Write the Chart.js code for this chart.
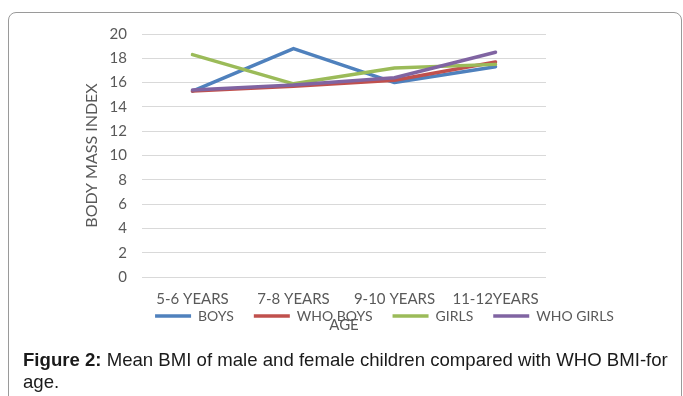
<!DOCTYPE html>
<html>
<head>
<meta charset="utf-8">
<script src="https://cdn.jsdelivr.net/npm/chart.js@4.4.1/dist/chart.umd.min.js"></script>
<style>
  html, body { margin: 0; padding: 0; background: #fff; }
  body { width: 683px; height: 396px; position: relative; overflow: hidden; }
  #frame { position: absolute; left: 8px; top: 12px; width: 674px; height: 420px;
           border: 1px solid #9a9a9a; border-radius: 8px; box-sizing: border-box; }
  #wrap { position: absolute; left: 0; top: 0; width: 683px; height: 381px; }
  #caption { position: absolute; left: 23px; top: 349px; width: 655px;
             font-family: "Liberation Sans", Arial, sans-serif; font-size: 18.6px;
             line-height: 22px; color: #1a1a1a; }
  #caption b { font-weight: bold; }
</style>
</head>
<body>
<div id="frame"></div>
<div id="wrap"><canvas id="c" width="683" height="381"></canvas></div>
<div id="caption"><b>Figure 2:</b> Mean BMI of male and female children compared with WHO BMI-for age.</div>
<script>
const categories = ["5-6 YEARS", "7-8 YEARS", "9-10 YEARS", "11-12YEARS"];
const boys      = [15.3, 18.8, 16.0, 17.3];
const whoBoys   = [15.3, 15.7, 16.2, 17.7];
const girls     = [18.3, 15.9, 17.2, 17.5];
const whoGirls  = [15.4, 15.8, 16.4, 18.5];
const seriesNames = ["BOYS", "WHO BOYS", "GIRLS", "WHO GIRLS"];
const yTicks = [0, 2, 4, 6, 8, 10, 12, 14, 16, 18, 20];

const colors = ["#4F81BD", "#C0504D", "#9BBB59", "#8064A2"];
const seriesData = [boys, whoBoys, girls, whoGirls];
const FONT = "Lato, 'Open Sans', sans-serif";
const TXT = "#595959";

const datasets = seriesData.map((d, i) => ({
  label: seriesNames[i],
  data: d,
  borderColor: colors[i],
  backgroundColor: colors[i],
  borderWidth: 3.5,
  borderCapStyle: 'round',
  borderJoinStyle: 'round',
  pointRadius: 0,
  pointHoverRadius: 0,
  tension: 0,
  fill: false,
  order: seriesData.length - i
}));

// move the legend up so that it overlaps the axis title, as in the original
const legendShift = {
  id: 'legendShift',
  afterLayout(chart) {
    const lg = chart.legend;
    if (!lg) return;
    const h = lg.bottom - lg.top;
    lg.top = chart.chartArea.bottom + 12;
    lg.bottom = lg.top + h;
    lg.left += 3; lg.right += 3;
  }
};

new Chart(document.getElementById('c'), {
  type: 'line',
  data: { labels: categories, datasets },
  plugins: [legendShift],
  options: {
    responsive: false,
    animation: false,
    events: [],
    layout: { padding: { left: 80, right: 0, top: 34, bottom: 0 } },
    plugins: {
      tooltip: { enabled: false },
      legend: {
        position: 'bottom',
        align: 'center',
        labels: {
          usePointStyle: true,
          pointStyle: 'line',
          pointStyleWidth: 36,
          boxHeight: 14,
          padding: 20,
          color: TXT,
          font: { family: FONT, size: 14 },
          sort: (a, b) => a.datasetIndex - b.datasetIndex
        }
      }
    },
    scales: {
      x: {
        offset: true,
        afterFit: s => { s.height = 60; },
        grid: { display: false, drawTicks: false },
        border: { display: false },
        ticks: { color: TXT, font: { family: FONT, size: 15 }, padding: 13, maxRotation: 0, autoSkip: false },
        title: { display: true, text: 'AGE', color: TXT, font: { family: FONT, size: 15 },
                 padding: { top: 0, bottom: 3 } }
      },
      y: {
        position: 'left',
        min: 0, max: 20,
        afterBuildTicks: s => { s.ticks = yTicks.map(v => ({ value: v })); },
        afterFit: s => { s.width = 62; },
        grid: { color: '#d9d9d9', lineWidth: 1, drawTicks: false },
        border: { display: false },
        ticks: { color: TXT, font: { family: FONT, size: 15 }, padding: 15 },
        title: { display: true, text: 'BODY MASS INDEX', color: TXT, font: { family: FONT, size: 16 },
                 padding: { top: 2, bottom: 0 } }
      },
      yRight: {
        position: 'right',
        display: true,
        grid: { display: false, drawTicks: false },
        border: { display: false },
        ticks: { display: false },
        afterFit: s => { s.width = 137; }
      }
    }
  }
});
</script>
</body>
</html>
